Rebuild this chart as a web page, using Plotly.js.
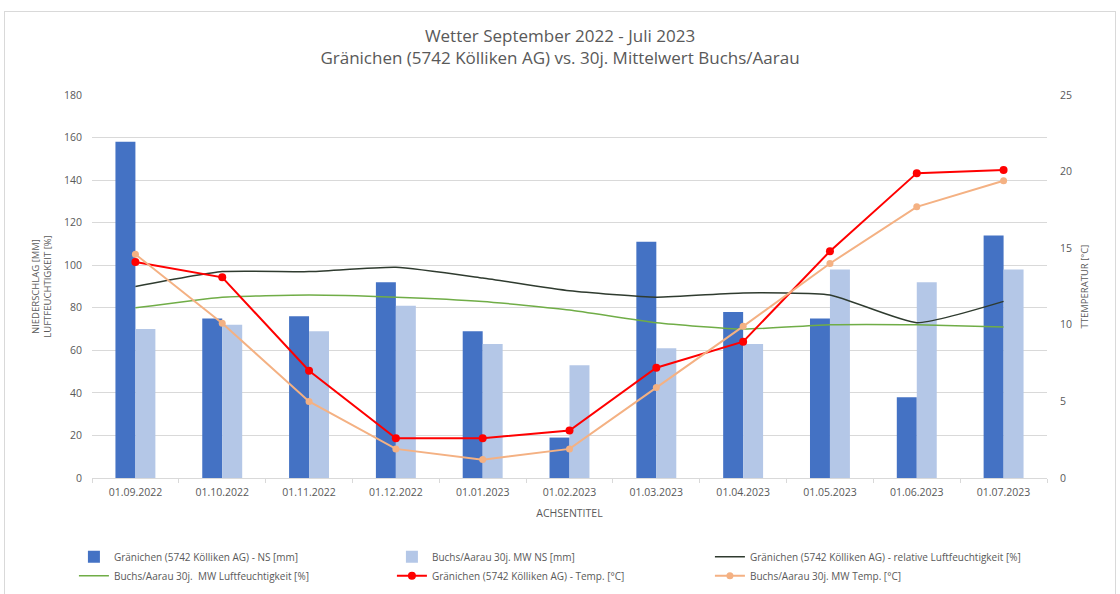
<!DOCTYPE html>
<html>
<head>
<meta charset="utf-8">
<script src="https://cdn.plot.ly/plotly-3.0.1.min.js"></script>
<style>
html,body{margin:0;padding:0;background:#fff;}
#wrap{position:relative;width:1120px;height:594px;}
#chart{position:absolute;left:0;top:0;width:1120px;height:594px;}
#frame{position:absolute;left:4px;top:11px;width:1112px;height:590px;border:1px solid #D9D9D9;pointer-events:none;box-sizing:border-box;}
</style>
</head>
<body>
<div id="wrap"><div id="chart"></div><div id="frame"></div></div>
<script>
const categories = ["01.09.2022","01.10.2022","01.11.2022","01.12.2022","01.01.2023","01.02.2023","01.03.2023","01.04.2023","01.05.2023","01.06.2023","01.07.2023"];
const nsGraenichen = [158, 75, 76, 92, 69, 19, 111, 78, 75, 38, 114];
const nsBuchs = [70, 72, 69, 81, 63, 53, 61, 63, 98, 92, 98];
const feuchteGraenichen = [90, 97, 97, 99, 94, 88, 85, 87, 86, 73, 83];
const feuchteBuchs = [80, 85, 86, 85, 83, 79, 73, 70, 72, 72, 71];
const tempGraenichen = [14.1, 13.1, 7.0, 2.6, 2.6, 3.1, 7.2, 8.9, 14.8, 19.9, 20.1];
const tempBuchs = [14.6, 10.1, 5.0, 1.9, 1.2, 1.9, 5.9, 9.9, 14.0, 17.7, 19.4];

const names = [
  "Gränichen (5742 Kölliken AG) - NS [mm]",
  "Buchs/Aarau 30j. MW NS [mm]",
  "Gränichen (5742 Kölliken AG) - relative Luftfeuchtigkeit [%]",
  "Buchs/Aarau 30j.  MW Luftfeuchtigkeit [%]",
  "Gränichen (5742 Kölliken AG) - Temp. [°C]",
  "Buchs/Aarau 30j. MW Temp. [°C]"
];

const traces = [
  {type:"bar", x:categories, y:nsGraenichen, name:names[0], marker:{color:"#4472C4"}},
  {type:"bar", x:categories, y:nsBuchs, name:names[1], marker:{color:"#B4C7E7"}},
  {type:"scatter", mode:"lines", x:categories, y:feuchteGraenichen, name:names[2], line:{color:"#2F3B2F", width:1.5, shape:"spline", smoothing:0.5}},
  {type:"scatter", mode:"lines", x:categories, y:feuchteBuchs, name:names[3], line:{color:"#70AD47", width:1.5, shape:"spline", smoothing:0.5}},
  {type:"scatter", mode:"lines+markers", x:categories, y:tempGraenichen, name:names[4], yaxis:"y2", line:{color:"#FF0000", width:2}, marker:{color:"#FF0000", size:8}},
  {type:"scatter", mode:"lines+markers", x:categories, y:tempBuchs, name:names[5], yaxis:"y2", line:{color:"#F4B183", width:2}, marker:{color:"#F4B183", size:7}}
];

const gray = "#595959";
const layout = {
  width:1120, height:594,
  margin:{l:92, r:73, t:95, b:116},
  paper_bgcolor:"rgba(0,0,0,0)", plot_bgcolor:"#fff",
  font:{family:"Open Sans, Liberation Sans, sans-serif", color:gray},
  title:{text:"Wetter September 2022 - Juli 2023<br>Gränichen (5742 Kölliken AG) vs. 30j. Mittelwert Buchs/Aarau",
         font:{size:17, color:gray}, x:0.5, xanchor:"center", yref:"container", y:0.93, yanchor:"top"},
  barmode:"group", bargap:0.54, bargroupgap:0,
  showlegend:true,
  legend:{orientation:"h", xref:"container", x:0.066, xanchor:"left", yref:"container", y:0.087, yanchor:"top",
          entrywidth:273, entrywidthmode:"pixels", font:{size:10, color:gray},
          traceorder:"normal", itemwidth:30, tracegroupgap:0, bgcolor:"rgba(0,0,0,0)"},
  xaxis:{type:"category", range:[-0.5, categories.length - 0.5], automargin:false, tickfont:{size:10.5, color:gray}, showgrid:false,
         showline:true, linecolor:"#D9D9D9", ticks:"outside", tickson:"boundaries",
         ticklen:4, tickcolor:"#D9D9D9", ticklabelstandoff:4,
         title:{text:"ACHSENTITEL", font:{size:10.5, color:gray}, standoff:12}},
  yaxis:{range:[0,180], dtick:20, automargin:false, tickfont:{size:10.5, color:gray}, gridcolor:"#D9D9D9",
         zeroline:false, ticks:"", ticklen:0, ticklabelstandoff:9,
         title:{text:"NIEDERSCHLAG [MM]<br>LUFTFEUCHTIGKEIT [%]", font:{size:9.5, color:gray}, standoff:10}},
  yaxis2:{range:[0,25], dtick:5, automargin:false, overlaying:"y", side:"right", showgrid:false, zeroline:false,
          tickfont:{size:10.5, color:gray}, ticklabelstandoff:12,
          title:{text:"TTEMPERATUR [°C]", font:{size:9.5, color:gray}, standoff:10}}
};

Plotly.newPlot("chart", traces, layout, {displayModeBar:false, staticPlot:true});
</script>
</body>
</html>
